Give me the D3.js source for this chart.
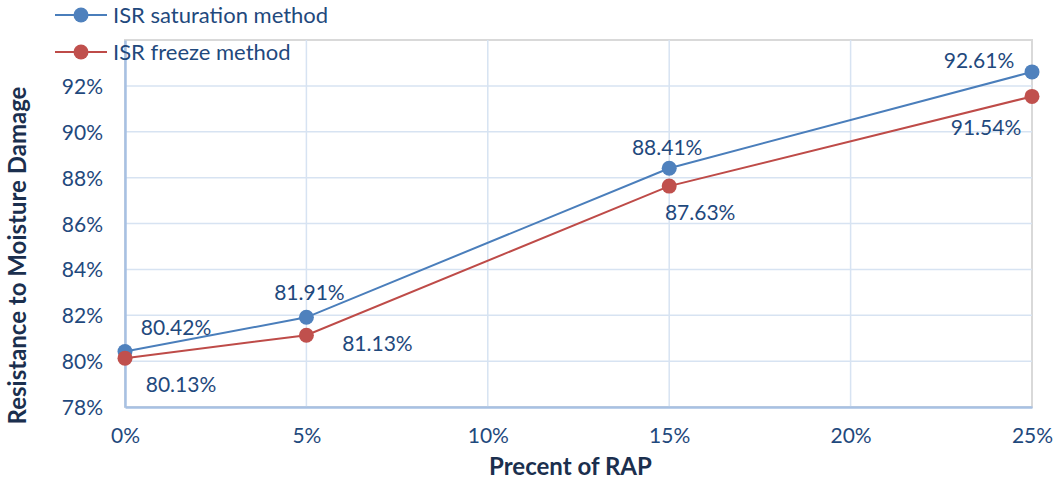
<!DOCTYPE html>
<html>
<head>
<meta charset="utf-8">
<script src="https://cdn.jsdelivr.net/npm/d3@7/dist/d3.min.js"></script>
<style>
  html, body { margin: 0; padding: 0; background: #fff; }
  svg { display: block; font-family: Lato, "Open Sans", sans-serif; }
</style>
</head>
<body>
<svg id="chart" width="1057" height="481"></svg>
<script>
// RAP content (%) on the x axis
const rapPercent = [0, 5, 15, 25];
// ISR values (%) for each test method
const saturationISR = [80.42, 81.91, 88.41, 92.61];
const freezeISR = [80.13, 81.13, 87.63, 91.54];
const seriesNames = ["ISR saturation method", "ISR freeze method"];
const xTicks = [0, 5, 10, 15, 20, 25];
const yTicks = [78, 80, 82, 84, 86, 88, 90, 92];

// label placement relative to each point (dx, dy), per series
const labelOffsets = [
  [[51, -24], [3, -25], [-2, -21], [-53, -11]],
  [[56, 26], [71, 8], [31, 26], [-46, 31]]
];
const colors = ["#4a7ebb", "#be4b48"];
const markerFill = ["#4f81bd", "#c0504d"];
const textColor = "#1f497d";
const fontSize = 21;

const svg = d3.select("#chart");
const plot = { left: 125, right: 1032, top: 40, bottom: 407 };

const x = d3.scaleLinear().domain([0, 25]).range([plot.left, plot.right]);
const y = d3.scaleLinear().domain([78, 94]).range([plot.bottom, plot.top]);

// plot area border (grey), drawn first
svg.append("rect")
  .attr("x", plot.left).attr("y", plot.top)
  .attr("width", plot.right - plot.left).attr("height", plot.bottom - plot.top)
  .attr("fill", "none").attr("stroke", "#d9d9d9").attr("stroke-width", 2);

// gridlines
const grid = svg.append("g");
grid.selectAll("line.h").data(yTicks.slice(1)).join("line")
  .attr("x1", plot.left).attr("x2", plot.right)
  .attr("y1", d => y(d)).attr("y2", d => y(d))
  .attr("stroke", "#d7e3f2").attr("stroke-width", 1.5);
grid.selectAll("line.v").data(xTicks.slice(1, -1)).join("line")
  .attr("y1", plot.top).attr("y2", plot.bottom)
  .attr("x1", d => x(d)).attr("x2", d => x(d))
  .attr("stroke", "#d7e3f2").attr("stroke-width", 1.5);

// axes
const xAxis = d3.axisBottom(x).tickValues(xTicks).tickFormat(d => d + "%").tickSize(0).tickPadding(23);
const yAxis = d3.axisLeft(y).tickValues(yTicks).tickFormat(d => d + "%").tickSize(0).tickPadding(22);

const gx = svg.append("g").attr("transform", `translate(0,${plot.bottom})`).call(xAxis);
const gy = svg.append("g").attr("transform", `translate(${plot.left},0)`).call(yAxis);
[gx, gy].forEach(g => {
  g.select(".domain").attr("stroke", "#a7c1e3").attr("stroke-width", 2.5);
  g.selectAll("text").attr("fill", textColor).attr("font-size", fontSize)
    .attr("font-family", "Lato, 'Open Sans', sans-serif");
});
gx.selectAll("text").attr("dy", "0.6em");
gy.selectAll("text").attr("dy", "0.36em");

// axis titles
svg.append("text")
  .attr("x", (plot.left + plot.right) / 2 - 8).attr("y", 475)
  .attr("text-anchor", "middle").attr("fill", "#1b2f4e")
  .attr("font-size", 24).attr("font-weight", "bold")
  .text("Precent of RAP");
svg.append("text")
  .attr("transform", `translate(26,${(plot.top + plot.bottom) / 2 + 32}) rotate(-90)`)
  .attr("text-anchor", "middle").attr("fill", "#1b2f4e")
  .attr("font-size", 24).attr("font-weight", "bold")
  .text("Resistance to Moisture Damage");

// series
const allSeries = [saturationISR, freezeISR];
const line = d3.line().x(d => x(d[0])).y(d => y(d[1]));

allSeries.forEach((vals, si) => {
  const pts = rapPercent.map((r, i) => [r, vals[i]]);
  svg.append("path").datum(pts)
    .attr("d", line).attr("fill", "none")
    .attr("stroke", colors[si]).attr("stroke-width", 2);
});
allSeries.forEach((vals, si) => {
  const pts = rapPercent.map((r, i) => [r, vals[i]]);
  svg.append("g").selectAll("circle").data(pts).join("circle")
    .attr("cx", d => x(d[0])).attr("cy", d => y(d[1])).attr("r", 7.5)
    .attr("fill", markerFill[si]);
});
allSeries.forEach((vals, si) => {
  const pts = rapPercent.map((r, i) => [r, vals[i], i]);
  svg.append("g").selectAll("text").data(pts).join("text")
    .attr("x", d => x(d[0]) + labelOffsets[si][d[2]][0])
    .attr("y", d => y(d[1]) + labelOffsets[si][d[2]][1])
    .attr("dy", "0.36em").attr("text-anchor", "middle")
    .attr("fill", textColor).attr("font-size", fontSize)
    .text(d => d[1].toFixed(2) + "%");
});

// legend
const legend = svg.append("g");
seriesNames.forEach((name, i) => {
  const ly = 15 + i * 37;
  legend.append("line").attr("x1", 55).attr("x2", 107).attr("y1", ly).attr("y2", ly)
    .attr("stroke", colors[i]).attr("stroke-width", 2);
  legend.append("circle").attr("cx", 81).attr("cy", ly).attr("r", 7.5).attr("fill", markerFill[i]);
  legend.append("text").attr("x", 113).attr("y", ly).attr("dy", "0.36em")
    .attr("fill", textColor).attr("font-size", 22).text(name);
});
</script>
</body>
</html>
